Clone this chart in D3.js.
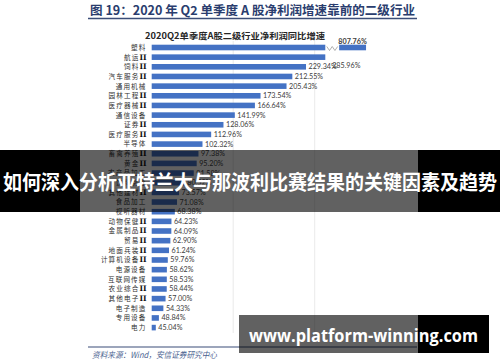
<!DOCTYPE html>
<html>
<head>
<meta charset="utf-8">
<script src="https://cdn.jsdelivr.net/npm/d3@7"></script>
<style>
  body { margin: 0; background: #fff; }
  svg { display: block; }
</style>
</head>
<body>
<div id="chart"></div>
<script>
// industries, top to bottom
const categories = ['塑料', '航运Ⅱ', '饲料Ⅱ', '汽车服务Ⅱ', '通用机械', '园林工程Ⅱ', '医疗器械Ⅱ', '通信设备',
  '证券Ⅱ', '医疗服务Ⅱ', '半导体', '畜禽养殖Ⅱ', '黄金Ⅱ', '农产品加工', '饮料制造', '其他建材Ⅱ', '食品加工',
  '视听器材', '动物保健Ⅱ', '金属制品Ⅱ', '贸易Ⅱ', '地面兵装Ⅱ', '计算机设备Ⅱ', '电源设备', '互联网传媒',
  '农业综合Ⅱ', '其他电子Ⅱ', '电子制造', '专用设备', '电力'];
// net profit yoy growth, %
const growth = [807.76, 285.96, 229.34, 212.55, 205.43, 173.54, 166.64, 141.99, 128.06, 112.96, 102.32,
  97.38, 95.20, 91.58, 80.52, 73.57, 71.08, 68.38, 64.23, 64.09, 62.90, 61.24, 59.76, 58.62, 58.53,
  58.44, 57.00, 54.33, 48.84, 45.04];
const xDomain = [40, 340];
const gridTicks = [140, 240];
// broken axis for the outlier bar
const breakFrom = 253, breakGap = 17, breakTo = 774.76;

const figTitle = '图 19：2020 年 Q2 单季度 A 股净利润增速靠前的二级行业';
const chartTitle = '2020Q2单季度A股二级行业净利润同比增速';
const sourceText = '资料来源：Wind，安信证券研究中心';
const bannerText = '如何深入分析亚特兰大与那波利比赛结果的关键因素及趋势';
const siteText = 'www.platform-winning.com';

const W = 500, H = 362;
const svg = d3.select('#chart').append('svg')
  .attr('width', W).attr('height', H);

const data = categories.map((c, i) => ({ name: c, value: growth[i] }));

const x = d3.scaleLinear().domain(xDomain).range([151.7, 396.2]);
const y = d3.scalePoint().domain(categories).range([47.5, 327.6]);
const barH = 5.6;
const blue = '#4472c4';

// figure title + rule
svg.append('text')
  .attr('x', 90).attr('y', 14.5)
  .attr('textLength', 325).attr('lengthAdjust', 'spacingAndGlyphs')
  .style('font-family', '"Noto Sans CJK SC", sans-serif')
  .style('font-weight', 700).style('font-size', '12.5px')
  .attr('fill', '#2a3d6e')
  .text(figTitle);
svg.append('line')
  .attr('x1', 88).attr('x2', 417).attr('y1', 18.5).attr('y2', 18.5)
  .attr('stroke', '#3b4d78').attr('stroke-width', 1.4);

svg.append('text')
  .attr('x', 145).attr('y', 38.5)
  .attr('textLength', 180).attr('lengthAdjust', 'spacingAndGlyphs')
  .style('font-family', '"Noto Sans CJK SC", sans-serif')
  .style('font-weight', 700).style('font-size', '8.5px')
  .attr('fill', '#262626')
  .text(chartTitle);

// grid
svg.append('g').selectAll('line')
  .data(gridTicks)
  .join('line')
  .attr('x1', d => x(d)).attr('x2', d => x(d))
  .attr('y1', 41).attr('y2', 333)
  .attr('stroke', '#e3e3e3').attr('stroke-width', 0.8);

// bars
const bars = svg.append('g');
bars.selectAll('rect.bar')
  .data(data)
  .join('rect')
  .attr('class', 'bar')
  .attr('x', x(xDomain[0]))
  .attr('y', d => y(d.name) - barH / 2)
  .attr('width', d => x(Math.min(d.value, breakFrom)) - x(xDomain[0]))
  .attr('height', barH)
  .attr('fill', blue);

// tail of the broken bar
const broken = data.filter(d => d.value > breakTo);
bars.selectAll('rect.tail')
  .data(broken)
  .join('rect')
  .attr('class', 'tail')
  .attr('x', x(breakFrom + breakGap))
  .attr('y', d => y(d.name) - barH / 2)
  .attr('width', d => x(breakFrom + breakGap + d.value - breakTo) - x(breakFrom + breakGap))
  .attr('height', barH)
  .attr('fill', blue);
bars.selectAll('path.zig')
  .data(broken)
  .join('path')
  .attr('class', 'zig')
  .attr('d', d => {
    const x0 = x(breakFrom) + 1.5, x1 = x(breakFrom + breakGap) - 1.5, yc = y(d.name);
    const n = 4, step = (x1 - x0) / n;
    return d3.range(n + 1).map(k => (k ? 'L' : 'M') + (x0 + k * step) + ',' + (yc + (k % 2 ? 3 : -1))).join('');
  })
  .attr('fill', 'none').attr('stroke', '#8c8c8c').attr('stroke-width', 0.7);

// category labels (roman II drawn bold like the source)
const catLabels = svg.append('g').selectAll('text')
  .data(data)
  .join('text')
  .attr('x', 146.5)
  .attr('y', d => y(d.name) + 2.4)
  .attr('text-anchor', 'end')
  .style('font-family', '"Noto Sans CJK SC", sans-serif')
  .style('font-size', '6.6px').style('letter-spacing', '1.1px')
  .attr('fill', '#303030');
catLabels.append('tspan').text(d => d.name.replace('Ⅱ', ''));
catLabels.filter(d => d.name.includes('Ⅱ')).append('tspan')
  .style('font-family', '"DejaVu Serif", serif')
  .style('font-weight', 700).style('font-size', '7.6px').style('letter-spacing', '0px')
  .attr('fill', '#111')
  .text('II');

// value labels
const fmt = d => d.toFixed(2) + '%';
svg.append('g').selectAll('text')
  .data(data)
  .join('text')
  .attr('x', d => {
    if (d.value > breakTo) return (x(breakFrom + breakGap) + x(breakFrom + breakGap + d.value - breakTo)) / 2;
    if (d.name === '航运Ⅱ') return x(d.value) - 20;
    return x(d.value) + 2.5;
  })
  .attr('y', d => {
    if (d.value > breakTo) return y(d.name) - 3.6;
    if (d.name === '航运Ⅱ') return y(d.name) + 11;
    return y(d.name) + 2.5;
  })
  .attr('text-anchor', d => d.value > breakTo ? 'middle' : 'start')
  .style('font-family', 'Lato, "Liberation Sans", sans-serif')
  .style('font-size', '7.2px')
  .style('font-weight', d => d.value > breakTo ? 700 : 400)
  .attr('fill', '#404040')
  .text(d => fmt(d.value));

// source line
svg.append('line')
  .attr('x1', 88).attr('x2', 417).attr('y1', 347).attr('y2', 347)
  .attr('stroke', '#3b4d78').attr('stroke-width', 1.2);
svg.append('text')
  .attr('x', 92).attr('y', 358)
  .attr('textLength', 125).attr('lengthAdjust', 'spacingAndGlyphs')
  .style('font-family', '"Noto Sans CJK SC", sans-serif')
  .style('font-size', '8.5px').style('font-style', 'italic')
  .attr('fill', '#4b6390')
  .text(sourceText);

// banner overlay
const band = svg.append('g');
band.append('rect').attr('x', 0).attr('y', 150).attr('width', 80).attr('height', 62).attr('fill', '#000');
band.append('rect').attr('x', 80).attr('y', 150).attr('width', 338).attr('height', 62).attr('fill', 'rgba(0,0,0,0.62)');
band.append('rect').attr('x', 418).attr('y', 150).attr('width', 82).attr('height', 62).attr('fill', '#000');
band.append('text')
  .attr('x', 3).attr('y', 189.5)
  .attr('textLength', 494).attr('lengthAdjust', 'spacingAndGlyphs')
  .style('font-family', '"Noto Sans CJK SC", sans-serif')
  .style('font-weight', 700).style('font-size', '20px')
  .attr('fill', '#fff')
  .text(bannerText);

// site watermark
const mark = svg.append('g');
mark.append('rect').attr('x', 239).attr('y', 315).attr('width', 179).attr('height', 38).attr('fill', 'rgba(0,0,0,0.62)');
mark.append('rect').attr('x', 418).attr('y', 315).attr('width', 71).attr('height', 38).attr('fill', '#000');
mark.append('text')
  .attr('x', 249).attr('y', 341.5)
  .attr('textLength', 229).attr('lengthAdjust', 'spacingAndGlyphs')
  .style('font-family', '"Open Sans", sans-serif')
  .style('font-weight', 700).style('font-size', '17px')
  .attr('fill', '#fff')
  .text(siteText);
</script>
</body>
</html>
